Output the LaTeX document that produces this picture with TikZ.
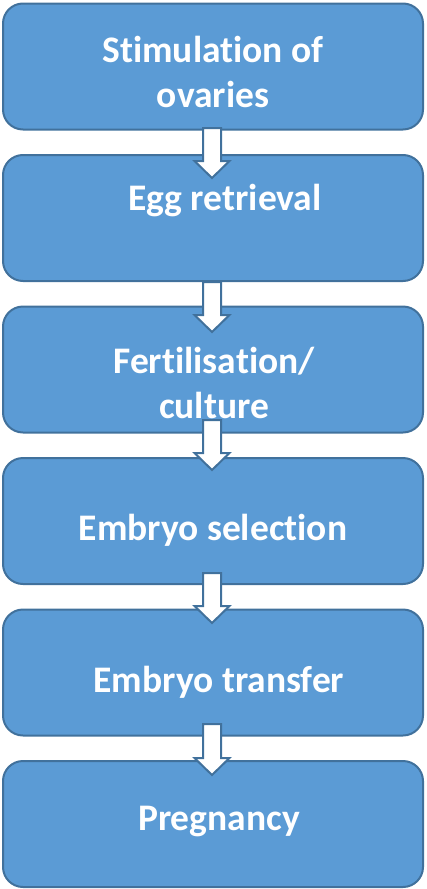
\documentclass[tikz,border=0pt]{standalone}
\usepackage{fontspec}
\setmainfont[Ligatures={NoCommon,NoContextual,NoRare}]{Carlito}
\usetikzlibrary{calc}
\definecolor{boxfill}{HTML}{5B9BD5}
\definecolor{boxline}{HTML}{41719C}
\tikzset{
  stepbox/.style={draw=boxline, line width=2pt, fill=boxfill, rounded corners=20pt,
    minimum width=420pt, minimum height=126pt, inner sep=0pt},
  label/.style={text=white, font=\fontsize{37.5}{45}\selectfont\bfseries, align=center, inner sep=0pt},
  barrow/.style={draw=boxline, line width=2pt, fill=white, line join=miter},
}
\newcommand\blockarrow[2]{%
  \draw[barrow] let \p1=(#1), \p2=(#2) in
    (\x1-9pt,\y1) -- (\x1+9pt,\y1) -- (\x1+9pt,\y2+17pt) -- (\x1+17.5pt,\y2+17pt)
    -- (\x2,\y2) -- (\x1-17.5pt,\y2+17pt) -- (\x1-9pt,\y2+17pt) -- cycle;}
\begin{document}
\begin{tikzpicture}[x=1pt,y=-1pt]
\useasboundingbox (0,0) rectangle (426,889);
% boxes
\node[stepbox] (b1) at (213,66.5) {};
\node[stepbox] (b2) at (213,218) {};
\node[stepbox] (b3) at (213,369.5) {};
\node[stepbox] (b4) at (213,521) {};
\node[stepbox] (b5) at (213,672.5) {};
\node[stepbox] (b6) at (213,824) {};
% labels
\node[label] (t1) at (213,72) {Stimulation of\\ovaries};
\node[label] (t2) at (225,201) {Egg retrieval};
\node[label] (t3) at (214,383) {Fertilisation/\\culture};
\node[label] (t4) at (213,530) {Embryo selection};
\node[label] (t5) at (219,682) {Embryo transfer};
\node[label] (t6) at (219,822) {Pregnancy};
% arrow anchors
\coordinate (a1s) at (212,128); \coordinate (a1e) at (212,178);
\coordinate (a2s) at (212,282); \coordinate (a2e) at (212,332);
\coordinate (a3s) at (212,420); \coordinate (a3e) at (212,470);
\coordinate (a4s) at (212,573); \coordinate (a4e) at (212,623);
\coordinate (a5s) at (212,724); \coordinate (a5e) at (212,775);
\blockarrow{a1s}{a1e}
\blockarrow{a2s}{a2e}
\blockarrow{a3s}{a3e}
\blockarrow{a4s}{a4e}
\blockarrow{a5s}{a5e}
\end{tikzpicture}
\end{document}
